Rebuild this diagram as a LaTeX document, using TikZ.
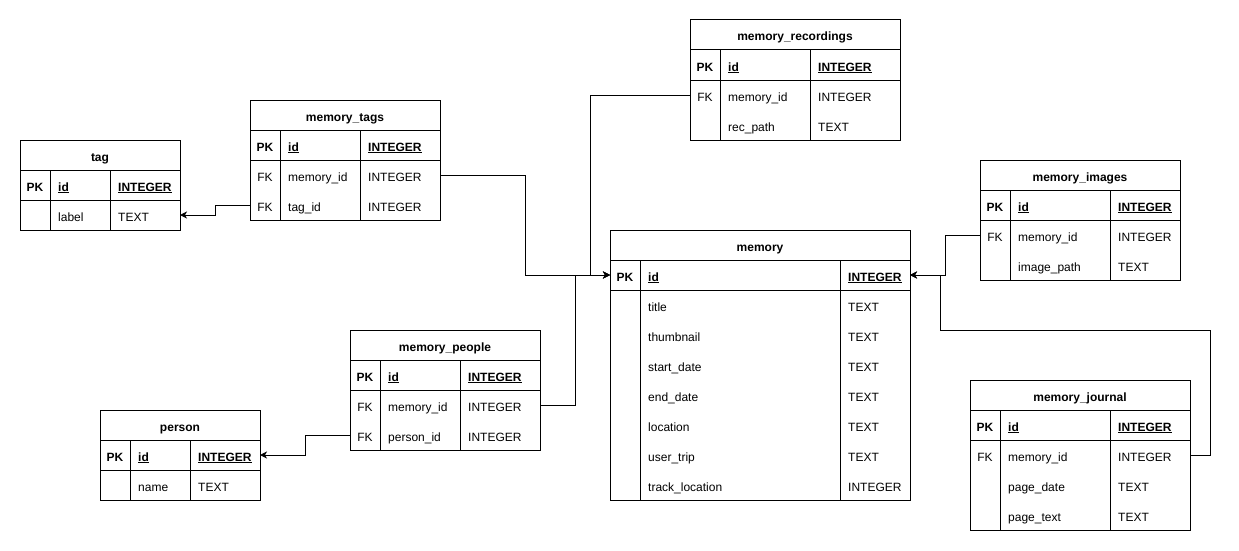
\documentclass[tikz,border=0pt]{standalone}
\usepackage{fontspec}
\setmainfont{Liberation Sans}
\usetikzlibrary{fit,calc,arrows.meta}
\tikzset{
  tblbox/.style={draw=black, line width=1pt, inner sep=0pt},
  tblline/.style={draw=black, line width=1pt},
  ttl/.style={font=\fontsize{12}{14}\selectfont\bfseries, inner sep=0pt, text height=9pt, text depth=2.5pt, yshift=-2.75pt},
  keyt/.style={font=\fontsize{12}{14}\selectfont, inner sep=0pt, text height=9pt, text depth=2.5pt, yshift=-2.75pt},
  fldt/.style={font=\fontsize{12}{14}\selectfont, inner sep=0pt, anchor=west, text height=9pt, text depth=2.5pt, yshift=-2.75pt},
  conn/.style={draw=black, line width=1pt, -{Stealth[length=7pt,width=7pt,inset=2pt]}},
}
\newcommand\ertbl[8]{%
  \gdef\tN{#1}\gdef\tXa{#2}\gdef\tYa{#3}\gdef\tXb{#4}\gdef\tDa{#6}\gdef\tDb{#7}%
  \node[tblbox, fit={(#2,#3)(#4,#5)}] (#1) {};
  \draw[tblline] (#2,#3+30) -- (#4,#3+30);
  \draw[tblline] (#2,#3+60) -- (#4,#3+60);
  \draw[tblline] (#6,#3+30) -- (#6,#5);
  \draw[tblline] (#7,#3+30) -- (#7,#5);
  \node[ttl] (#1-title) at ({(#2+#4)/2},#3+15) {#8};
}
\newcommand\ertrow[4]{%
  \pgfmathsetmacro\tY{\tYa+45+30*#1}%
  \coordinate (\tN-l#1) at (\tXa,\tY);
  \coordinate (\tN-r#1) at (\tXb,\tY);
  \if\relax\detokenize{#2}\relax\else
  \node[keyt] (\tN-k#1) at ({(\tXa+\tDa)/2},\tY) {#2};
  \fi
  \node[fldt] (\tN-f#1) at (\tDa+8,\tY) {#3};
  \node[fldt] (\tN-t#1) at (\tDb+8,\tY) {#4};
}
\newcommand\pkrow{\ertrow{0}{\textbf{PK}}{\textbf{\underline{id}}}{\textbf{\underline{INTEGER}}}}
\begin{document}
\begin{tikzpicture}[x=1pt,y=-1pt]
\useasboundingbox[fill=white] (0,0) rectangle (1239,551);

\ertbl{tag}{20}{140}{180}{230}{50}{110}{tag}
\pkrow
\ertrow{1}{}{label}{TEXT}

\ertbl{mt}{250}{100}{440}{220}{280}{360}{memory\_tags}
\pkrow
\ertrow{1}{FK}{memory\_id}{INTEGER}
\ertrow{2}{FK}{tag\_id}{INTEGER}

\ertbl{mr}{690}{20}{900}{140}{720}{810}{memory\_recordings}
\pkrow
\ertrow{1}{FK}{memory\_id}{INTEGER}
\ertrow{2}{}{rec\_path}{TEXT}

\ertbl{mi}{980}{160}{1180}{280}{1010}{1110}{memory\_images}
\pkrow
\ertrow{1}{FK}{memory\_id}{INTEGER}
\ertrow{2}{}{image\_path}{TEXT}

\ertbl{mem}{610}{230}{910}{500}{640}{840}{memory}
\pkrow
\ertrow{1}{}{title}{TEXT}
\ertrow{2}{}{thumbnail}{TEXT}
\ertrow{3}{}{start\_date}{TEXT}
\ertrow{4}{}{end\_date}{TEXT}
\ertrow{5}{}{location}{TEXT}
\ertrow{6}{}{user\_trip}{TEXT}
\ertrow{7}{}{track\_location}{INTEGER}

\ertbl{mp}{350}{330}{540}{450}{380}{460}{memory\_people}
\pkrow
\ertrow{1}{FK}{memory\_id}{INTEGER}
\ertrow{2}{FK}{person\_id}{INTEGER}

\ertbl{pr}{100}{410}{260}{500}{130}{190}{person}
\pkrow
\ertrow{1}{}{name}{TEXT}

\ertbl{mj}{970}{380}{1190}{530}{1000}{1110}{memory\_journal}
\pkrow
\ertrow{1}{FK}{memory\_id}{INTEGER}
\ertrow{2}{}{page\_date}{TEXT}
\ertrow{3}{}{page\_text}{TEXT}

% connectors
\draw[conn] (mt-l2) -- ++(-35,0) |- (tag-r1);
\draw[conn] (mt-r1) -- ++(85,0) |- (mem-l0);
\draw[conn] (mr-l1) -- ++(-100,0) |- (mem-l0);
\draw[conn] (mp-r1) -- ++(35,0) |- (mem-l0);
\draw[conn] (mp-l2) -- ++(-45,0) |- (pr-r0);
\draw[conn] (mi-l1) -- ++(-35,0) |- (mem-r0);
\draw[conn] (mj-r1) -- ++(20,0) |- ($(mem-r0)+(30,55)$) |- (mem-r0);
\end{tikzpicture}
\end{document}
